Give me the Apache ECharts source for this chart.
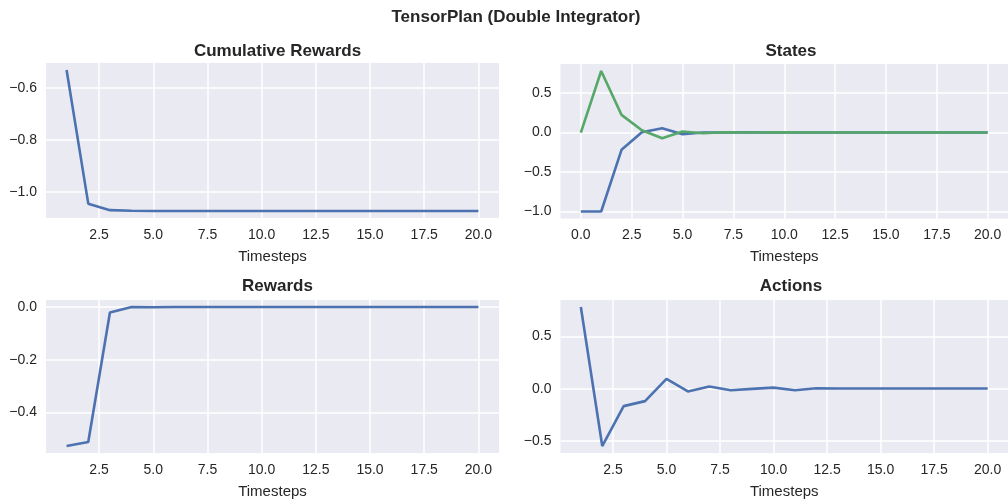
<!DOCTYPE html>
<html>
<head>
<meta charset="utf-8">
<script src="https://cdn.jsdelivr.net/npm/echarts@6/dist/echarts.min.js"></script>
<style>
html,body{margin:0;padding:0;background:#fff;}
#chart{width:1008px;height:500px;}
</style>
</head>
<body>
<div id="chart"></div>
<script>
// ---- data ----
const stepsA = [1,2,3,4,5,6,7,8,9,10,11,12,13,14,15,16,17,18,19,20];
const stepsS = [0,1,2,3,4,5,6,7,8,9,10,11,12,13,14,15,16,17,18,19,20];
const cumulativeRewards = [-0.532,-1.045,-1.070,-1.072,-1.073,-1.073,-1.073,-1.073,-1.073,-1.073,-1.073,-1.073,-1.073,-1.073,-1.073,-1.073,-1.073,-1.073,-1.073,-1.073];
const rewards = [-0.527,-0.512,-0.021,0.000,-0.001,0.000,0.000,0.000,0.000,0.000,0.000,0.000,0.000,0.000,0.000,0.000,0.000,0.000,0.000,0.000];
const statePosition = [-1.0,-1.0,-0.219,0.005,0.055,-0.02,0.0,0.0,0.003,0.0,0.0,0.0,0.0,0.0,0.0,0.0,0.0,0.0,0.0,0.0,0.0];
const stateVelocity = [0.0,0.78,0.224,0.03,-0.071,0.013,-0.008,0.005,0.0,0.0,0.003,0.0,0.0,0.0,0.0,0.0,0.0,0.0,0.0,0.0,0.0];
const actions = [0.784,-0.547,-0.165,-0.117,0.095,-0.025,0.022,-0.013,0.0,0.012,-0.013,0.006,0.003,0.003,0.003,0.003,0.003,0.003,0.003,0.003];

const xTicksA = [2.5,5.0,7.5,10.0,12.5,15.0,17.5,20.0];
const xTicksS = [0.0,2.5,5.0,7.5,10.0,12.5,15.0,17.5,20.0];
const cumTicks = [-1.0,-0.8,-0.6];
const rewardTicks = [-0.4,-0.2,0.0];
const stateTicks = [-1.0,-0.5,0.0,0.5];
const actionTicks = [-0.5,0.0,0.5];

// ---- helpers ----
function pad(arrs){
  const all = [].concat(...arrs);
  const lo = Math.min(...all), hi = Math.max(...all);
  const m = (hi - lo) * 0.05;
  return [lo - m, hi + m];
}
const zip = (xs, ys) => xs.map((x,i)=>[x, ys[i]]);
const fmt = v => v.toFixed(1).replace('-', '\u2212');
const FONT = "'Liberation Sans', Arial, sans-serif";
const TXT = '#262626';
const BLUE = '#4C72B0', GREEN = '#55A868';

const grids = [
  {left:46, top:63, width:453, height:155},
  {left:560.5, top:64, width:451.5, height:154.5},
  {left:46, top:300, width:453, height:154},
  {left:560.5, top:300, width:451.5, height:154}
].map(g => Object.assign(g, {show:true, backgroundColor:'#EAEAF2', borderWidth:0, containLabel:false}));

function xAxis(i, range, ticks){
  return {
    type:'value', gridIndex:i, min:range[0], max:range[1],
    name:'Timesteps', nameLocation:'middle', nameGap:31,
    nameTextStyle:{color:TXT, fontSize:15, fontFamily:FONT},
    axisLine:{show:false},
    axisTick:{show:false, customValues:ticks},
    axisLabel:{customValues:ticks, formatter:fmt, color:TXT, fontSize:14, fontFamily:FONT, margin:10},
    splitLine:{show:true, lineStyle:{color:'#ffffff', width:1.5}}
  };
}
function yAxis(i, range, ticks){
  return {
    type:'value', gridIndex:i, min:range[0], max:range[1],
    axisLine:{show:false},
    axisTick:{show:false, customValues:ticks},
    axisLabel:{customValues:ticks, formatter:fmt, color:TXT, fontSize:14, fontFamily:FONT, margin:9},
    splitLine:{show:true, lineStyle:{color:'#ffffff', width:1.5}}
  };
}
function line(i, data, color){
  return {type:'line', xAxisIndex:i, yAxisIndex:i, data:data, showSymbol:false, symbol:'none',
          lineStyle:{color:color, width:2.6}, itemStyle:{color:color}, animation:false, z:3};
}
function title(text, cx, top, size){
  return {text:text, left:cx, top:top, textAlign:'center',
          textStyle:{color:TXT, fontSize:size, fontWeight:'bold', fontFamily:FONT}};
}

const xRangeA = pad([stepsA]);
const xRangeS = pad([stepsS]);

const option = {
  backgroundColor:'#ffffff',
  animation:false,
  title:[
    title('TensorPlan (Double Integrator)', 511, 4, 17),
    title('Cumulative Rewards', 272.5, 38, 17),
    title('States', 786, 38, 17),
    title('Rewards', 272.5, 273, 17),
    title('Actions', 786, 273, 17)
  ],
  grid:grids,
  xAxis:[
    xAxis(0, xRangeA, xTicksA),
    xAxis(1, xRangeS, xTicksS),
    xAxis(2, xRangeA, xTicksA),
    xAxis(3, xRangeA, xTicksA)
  ],
  yAxis:[
    yAxis(0, pad([cumulativeRewards]), cumTicks),
    yAxis(1, pad([statePosition, stateVelocity]), stateTicks),
    yAxis(2, pad([rewards]), rewardTicks),
    yAxis(3, pad([actions]), actionTicks)
  ],
  series:[
    line(0, zip(stepsA, cumulativeRewards), BLUE),
    line(1, zip(stepsS, statePosition), BLUE),
    line(1, zip(stepsS, stateVelocity), GREEN),
    line(2, zip(stepsA, rewards), BLUE),
    line(3, zip(stepsA, actions), BLUE)
  ]
};
const chart = echarts.init(document.getElementById('chart'), null, {renderer:'canvas'});
chart.setOption(option);
</script>
</body>
</html>
